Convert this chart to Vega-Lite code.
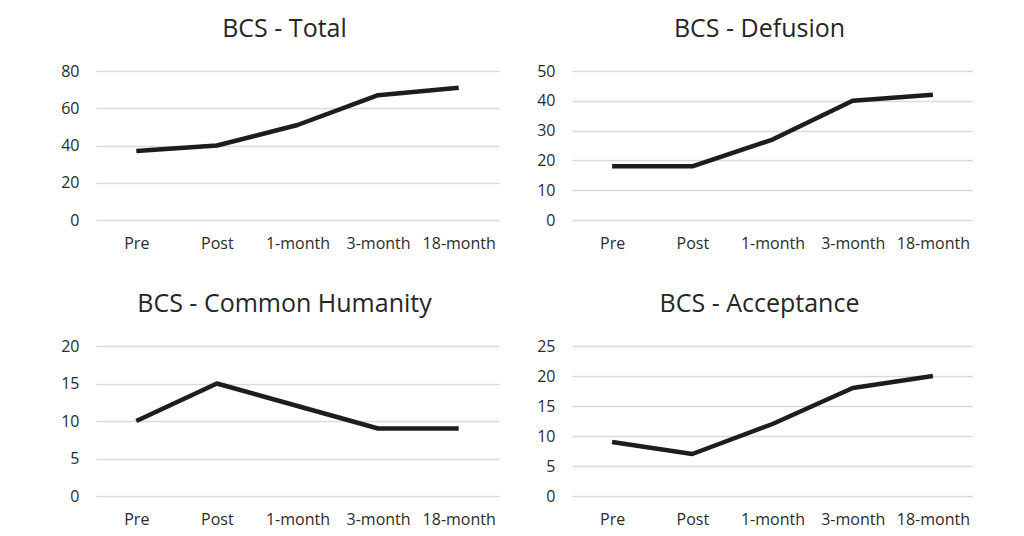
{
  "$schema": "https://vega.github.io/schema/vega-lite/v6.json",
  "padding": {"left": 60, "top": 17, "right": 0, "bottom": 6},
  "background": "white",
  "datasets": {
    "total": [
      {"time": "Pre", "score": 37},
      {"time": "Post", "score": 40},
      {"time": "1-month", "score": 51},
      {"time": "3-month", "score": 67},
      {"time": "18-month", "score": 71}
    ],
    "defusion": [
      {"time": "Pre", "score": 18},
      {"time": "Post", "score": 18},
      {"time": "1-month", "score": 27},
      {"time": "3-month", "score": 40},
      {"time": "18-month", "score": 42}
    ],
    "humanity": [
      {"time": "Pre", "score": 10},
      {"time": "Post", "score": 15},
      {"time": "1-month", "score": 12},
      {"time": "3-month", "score": 9},
      {"time": "18-month", "score": 9}
    ],
    "acceptance": [
      {"time": "Pre", "score": 9},
      {"time": "Post", "score": 7},
      {"time": "1-month", "score": 12},
      {"time": "3-month", "score": 18},
      {"time": "18-month", "score": 20}
    ]
  },
  "columns": 2,
  "spacing": {"column": 37, "row": 41},
  "concat": [
    {
      "title": {"text": "BCS - Total"},
      "width": 403, "height": 149,
      "data": {"name": "total"},
      "mark": {"type": "line", "color": "#1f1c1d", "strokeWidth": 4.5, "strokeJoin": "round"},
      "encoding": {
        "x": {"field": "time", "type": "nominal", "sort": ["Pre", "Post", "1-month", "3-month", "18-month"], "scale": {"type": "point", "padding": 0.5}, "axis": {"title": null}},
        "y": {"field": "score", "type": "quantitative", "scale": {"domain": [0, 80]}, "axis": {"title": null, "values": [0, 20, 40, 60, 80]}}
      }
    },
    {
      "title": {"text": "BCS - Defusion"},
      "width": 401, "height": 149,
      "data": {"name": "defusion"},
      "mark": {"type": "line", "color": "#1f1c1d", "strokeWidth": 4.5, "strokeJoin": "round"},
      "encoding": {
        "x": {"field": "time", "type": "nominal", "sort": ["Pre", "Post", "1-month", "3-month", "18-month"], "scale": {"type": "point", "padding": 0.5}, "axis": {"title": null}},
        "y": {"field": "score", "type": "quantitative", "scale": {"domain": [0, 50]}, "axis": {"title": null, "values": [0, 10, 20, 30, 40, 50]}}
      }
    },
    {
      "title": {"text": "BCS - Common Humanity"},
      "width": 403, "height": 150,
      "data": {"name": "humanity"},
      "mark": {"type": "line", "color": "#1f1c1d", "strokeWidth": 4.5, "strokeJoin": "round"},
      "encoding": {
        "x": {"field": "time", "type": "nominal", "sort": ["Pre", "Post", "1-month", "3-month", "18-month"], "scale": {"type": "point", "padding": 0.5}, "axis": {"title": null}},
        "y": {"field": "score", "type": "quantitative", "scale": {"domain": [0, 20]}, "axis": {"title": null, "values": [0, 5, 10, 15, 20]}}
      }
    },
    {
      "title": {"text": "BCS - Acceptance"},
      "width": 401, "height": 150,
      "data": {"name": "acceptance"},
      "mark": {"type": "line", "color": "#1f1c1d", "strokeWidth": 4.5, "strokeJoin": "round"},
      "encoding": {
        "x": {"field": "time", "type": "nominal", "sort": ["Pre", "Post", "1-month", "3-month", "18-month"], "scale": {"type": "point", "padding": 0.5}, "axis": {"title": null}},
        "y": {"field": "score", "type": "quantitative", "scale": {"domain": [0, 25]}, "axis": {"title": null, "values": [0, 5, 10, 15, 20, 25]}}
      }
    }
  ],
  "config": {
    "font": "Open Sans",
    "view": {"stroke": null},
    "title": {"fontSize": 25, "fontWeight": "normal", "font": "Open Sans", "color": "#262626", "offset": 21, "anchor": "middle", "dx": -13},
    "axis": {
      "domain": false,
      "ticks": false,
      "tickSize": 0,
      "labelFont": "Open Sans",
      "labelFontSize": 16,
      "labelColor": "#2b2b2b",
      "gridColor": "#d9d9d9",
      "gridWidth": 1.5
    },
    "axisX": {"grid": false, "labelAngle": 0, "labelPadding": 15},
    "axisY": {"grid": true, "labelPadding": 17}
  }
}
